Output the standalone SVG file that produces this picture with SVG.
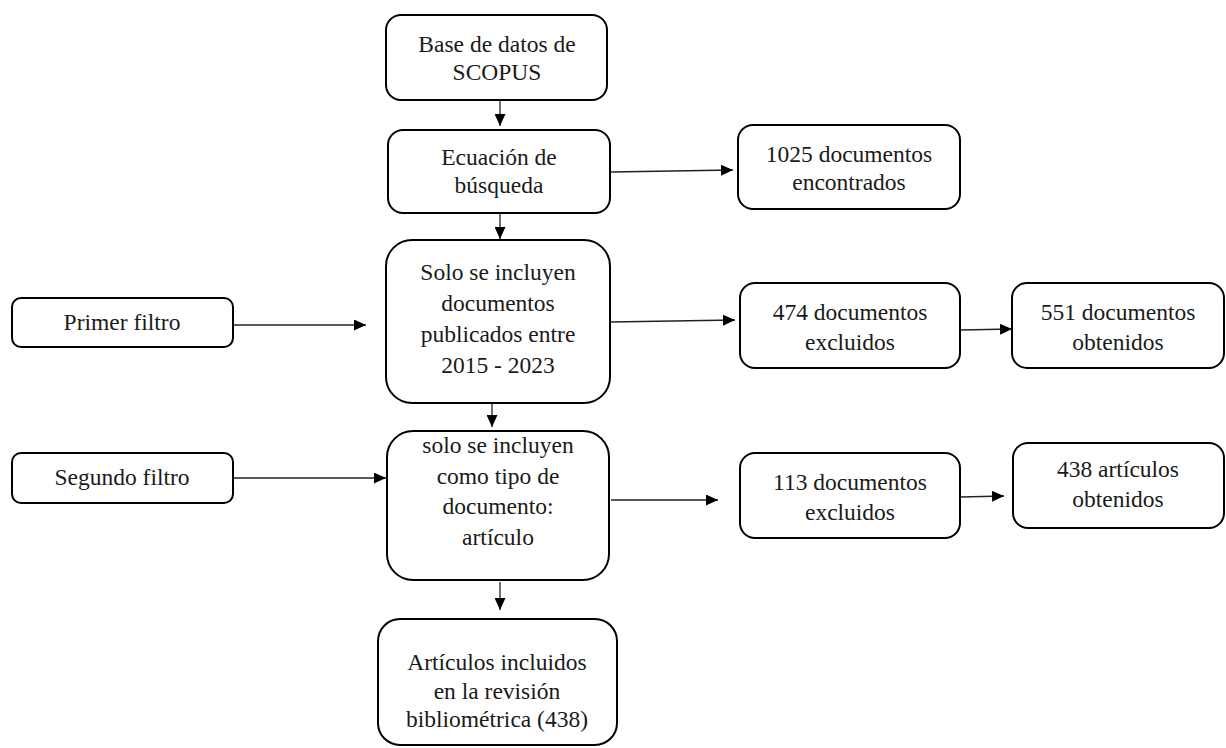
<svg xmlns="http://www.w3.org/2000/svg" width="1226" height="748" viewBox="0 0 1226 748">
<style>
.box{fill:#fff;stroke:#000;stroke-width:2}
.t{font-size:23.5px;fill:#1a1a1a;text-anchor:middle}
.c{stroke:#222;stroke-width:1.3;fill:none;marker-end:url(#ah)}
</style>
<defs>
<marker id="ah" viewBox="0 0 12 11" refX="12" refY="5.5" markerWidth="12" markerHeight="11" markerUnits="userSpaceOnUse" orient="auto">
<path d="M0,0 L12,5.5 L0,11 z" fill="#000"/>
</marker>
</defs>
<rect width="1226" height="748" fill="#fff"/>
<g id="connectors">
<line class="c" x1="500" y1="101" x2="500" y2="126"/>
<line class="c" x1="500" y1="214" x2="500" y2="239"/>
<line class="c" x1="611" y1="172" x2="733" y2="170"/>
<line class="c" x1="233" y1="325" x2="366" y2="325"/>
<line class="c" x1="610" y1="322" x2="735" y2="320"/>
<line class="c" x1="961" y1="330" x2="1012" y2="329"/>
<line class="c" x1="492" y1="404" x2="492" y2="427"/>
<line class="c" x1="233" y1="478" x2="386" y2="478"/>
<line class="c" x1="611" y1="500" x2="718" y2="500"/>
<line class="c" x1="961" y1="497" x2="1004" y2="496"/>
<line class="c" x1="500" y1="582" x2="500" y2="610"/>
</g>
<g font-family="'Liberation Serif', 'DejaVu Serif', serif">
<g id="n1"><rect class="box" x="386" y="15" width="221" height="85" rx="15"/>
<text class="t" x="497" y="52">Base de datos de</text><text class="t" x="497" y="80">SCOPUS</text></g>
<g id="n2"><rect class="box" x="388" y="130" width="222" height="83" rx="15"/>
<text class="t" x="499" y="165">Ecuación de</text><text class="t" x="499" y="193">búsqueda</text></g>
<g id="n3"><rect class="box" x="738" y="125" width="222" height="84" rx="15"/>
<text class="t" x="849" y="162">1025  documentos</text><text class="t" x="849" y="190">encontrados</text></g>
<g id="n4"><rect class="box" x="386" y="240" width="224" height="163" rx="26"/>
<text class="t" x="498" y="280">Solo se incluyen</text><text class="t" x="498" y="311">documentos</text><text class="t" x="498" y="342">publicados entre</text><text class="t" x="498" y="373">2015  - 2023</text></g>
<g id="n5"><rect class="box" x="12" y="298" width="221" height="49" rx="9"/>
<text class="t" x="122" y="330">Primer filtro</text></g>
<g id="n6"><rect class="box" x="740" y="283" width="220" height="85" rx="15"/>
<text class="t" x="850" y="320">474 documentos</text><text class="t" x="850" y="350">excluidos</text></g>
<g id="n7"><rect class="box" x="1012" y="283" width="212" height="85" rx="15"/>
<text class="t" x="1118" y="320">551 documentos</text><text class="t" x="1118" y="350">obtenidos</text></g>
<g id="n8"><rect class="box" x="387" y="431" width="222" height="149" rx="26"/>
<text class="t" x="498" y="453">solo se incluyen</text><text class="t" x="498" y="484">como tipo de</text><text class="t" x="498" y="514">documento:</text><text class="t" x="498" y="545">artículo</text></g>
<g id="n9"><rect class="box" x="12" y="453" width="221" height="50" rx="9"/>
<text class="t" x="122" y="485">Segundo filtro</text></g>
<g id="n10"><rect class="box" x="740" y="453" width="220" height="85" rx="15"/>
<text class="t" x="850" y="490">113 documentos</text><text class="t" x="850" y="520">excluidos</text></g>
<g id="n11"><rect class="box" x="1013" y="443" width="211" height="85" rx="15"/>
<text class="t" x="1118" y="477">438 artículos</text><text class="t" x="1118" y="507">obtenidos</text></g>
<g id="n12"><rect class="box" x="378" y="619" width="239" height="126" rx="22"/>
<text class="t" x="497" y="670">Artículos incluidos</text><text class="t" x="497" y="699">en la revisión</text><text class="t" x="497" y="727">bibliométrica (438)</text></g>
</g>
</svg>
